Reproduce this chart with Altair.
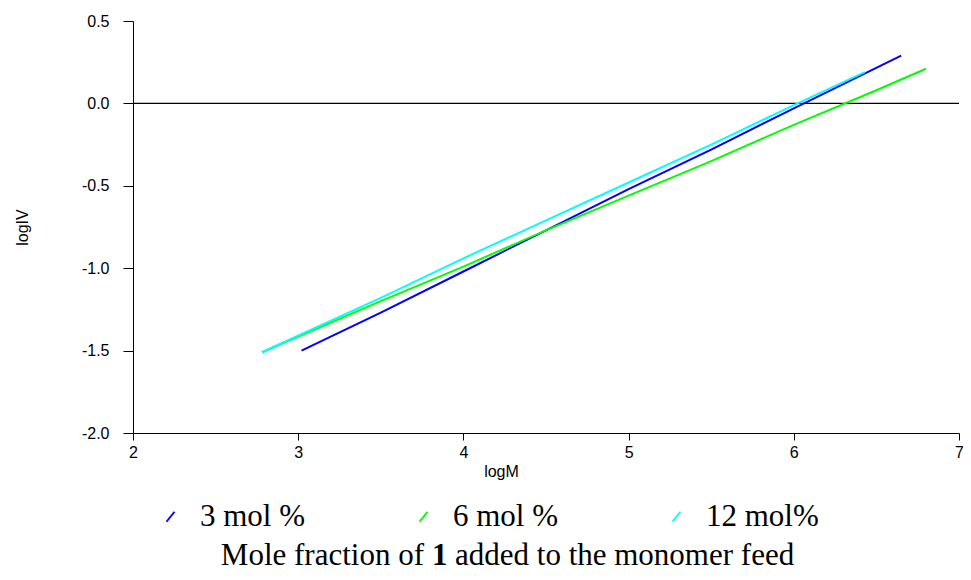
import altair as alt
import pandas as pd

# ---- data ----
series_names = ["3 mol %", "6 mol %", "12 mol%"]
series_colors = ["#0000ff", "#00ff00", "#00ffff"]

blue_x = [3.02, 3.5, 4.0, 4.5, 5.0, 5.5, 6.0, 6.65]
blue_y = [-1.50, -1.27, -1.02, -0.77, -0.52, -0.28, -0.03, 0.29]

green_x = [2.78, 3.5, 4.0, 4.5, 5.0, 5.5, 6.0, 6.5, 6.80]
green_y = [-1.51, -1.20, -0.99, -0.77, -0.56, -0.35, -0.13, 0.08, 0.21]

cyan_x = [2.78, 3.5, 4.0, 4.5, 5.0, 5.5, 6.0, 6.43]
cyan_y = [-1.51, -1.18, -0.94, -0.71, -0.48, -0.25, -0.01, 0.19]

x_ticks = [2, 3, 4, 5, 6, 7]
y_ticks = [-2.0, -1.5, -1.0, -0.5, 0.0, 0.5]

caption_parts = ["Mole fraction of", "1", "added to the monomer feed"]

rows = []
for name, xs, ys in zip(series_names, [blue_x, green_x, cyan_x], [blue_y, green_y, cyan_y]):
    for i, (a, b) in enumerate(zip(xs, ys)):
        rows.append({"series": name, "logM": a, "logIV": b, "i": i})
df = pd.DataFrame(rows)

SANS = "Liberation Sans"
SERIF = "Liberation Serif"

x_enc = alt.X(
    "logM:Q",
    scale=alt.Scale(domain=[2, 7], nice=False, zero=False),
    axis=alt.Axis(
        values=x_ticks, format="d", title="logM", grid=False,
        domainColor="black", tickColor="black", tickSize=7,
        labelFont=SANS, labelFontSize=16, labelColor="black", labelPadding=4,
        titleFont=SANS, titleFontSize=16, titleFontWeight="normal", titleColor="black",
        titleX=368, titleY=30, titleAnchor="start", titleAlign="center",
        labelFlush=False,
    ),
)
y_enc = alt.Y(
    "logIV:Q",
    scale=alt.Scale(domain=[-2, 0.5], nice=False, zero=False),
    axis=alt.Axis(
        values=y_ticks, grid=False,
        labelExpr="replace(format(datum.value, '.1f'), '\u2212', '-')",
        title="logIV",
        domainColor="black", tickColor="black", tickSize=10,
        labelFont=SANS, labelFontSize=16, labelColor="black", labelPadding=14,
        titleFont=SANS, titleFontSize=16, titleFontWeight="normal", titleColor="black",
        titlePadding=51,
    ),
)

lines = alt.Chart(df).mark_line(strokeWidth=2).encode(
    x=x_enc,
    y=y_enc,
    order="i:Q",
    color=alt.Color(
        "series:N",
        scale=alt.Scale(domain=series_names, range=series_colors),
        sort=series_names,
        legend=alt.Legend(
            orient="none", legendX=22, legendY=480, direction="horizontal",
            title=None, symbolType="M-0.4,0.5L0.4,-0.5", symbolSize=400,
            symbolStrokeWidth=2, symbolFillColor="transparent",
            labelFont=SERIF, labelFontSize=31, labelColor="black",
            labelOffset=14, columnPadding=95, gridAlign="all", padding=0,
            labelLimit=300,
        ),
    ),
)

zero = alt.Chart(pd.DataFrame({"y": [0.0]})).mark_rule(color="black", strokeWidth=1.3).encode(
    y=alt.Y("y:Q", scale=alt.Scale(domain=[-2, 0.5])),
)

CAP_Y = 544
cap_df = pd.DataFrame({"t": caption_parts})
cap1 = alt.Chart(cap_df).transform_filter(alt.datum.t == caption_parts[0]).mark_text(
    font=SERIF, fontSize=31, align="right", baseline="alphabetic", color="black"
).encode(text="t:N", x=alt.value(291), y=alt.value(CAP_Y))
cap2 = alt.Chart(cap_df).transform_filter(alt.datum.t == caption_parts[1]).mark_text(
    font=SERIF, fontSize=31, fontWeight="bold", align="left", baseline="alphabetic", color="black"
).encode(text="t:N", x=alt.value(299), y=alt.value(CAP_Y))
cap3 = alt.Chart(cap_df).transform_filter(alt.datum.t == caption_parts[2]).mark_text(
    font=SERIF, fontSize=31, align="left", baseline="alphabetic", color="black"
).encode(text="t:N", x=alt.value(322), y=alt.value(CAP_Y))

chart = alt.layer(zero, lines, cap1, cap2, cap3).properties(
    width=826, height=412,
    autosize=alt.AutoSizeParams(type="none"),
    padding={"left": 125, "top": 13, "right": 4, "bottom": 139},
).configure_view(stroke=None).configure_axis(domainWidth=1, tickWidth=1)

chart.save("out.html", embed_options={"renderer": "svg", "actions": False})
